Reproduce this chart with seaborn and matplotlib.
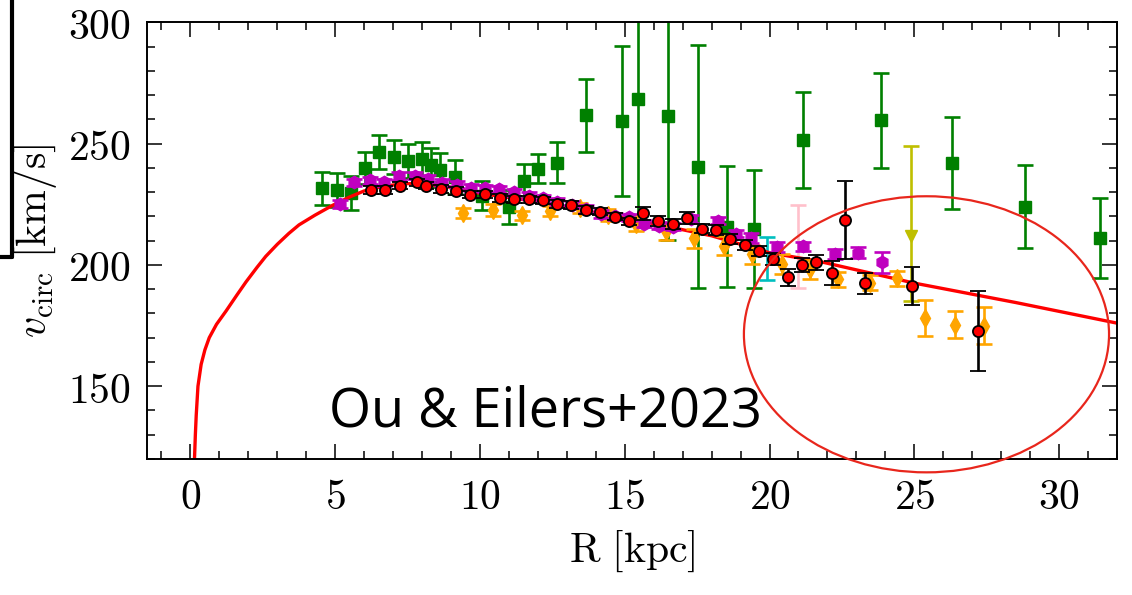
import numpy as np
import pandas as pd
import matplotlib
matplotlib.use("Agg")
import matplotlib.pyplot as plt
import seaborn as sns
from matplotlib.patches import Ellipse
from matplotlib.lines import Line2D
from matplotlib.ticker import MultipleLocator, FuncFormatter

# ---------------- data ----------------
# model rotation curve (red line)
model_R = [0.14, 0.17, 0.2, 0.26, 0.37, 0.5, 0.65, 0.9, 1.23, 1.6, 1.92, 2.3, 2.6, 3.0, 3.4,
           3.75, 4.3, 4.9, 5.5, 6.0, 6.7, 7.4, 8.0, 9.0, 10.0, 12.0, 14.0, 16.0, 18.0,
           20.0, 21.7, 25.0, 28.5, 32.0]
model_v = [120, 130, 138, 150, 159, 165, 170, 175.5, 181, 187.5, 193, 199, 203.5, 208.5, 213,
           216.5, 220.5, 224.5, 228, 230.5, 232.5, 233.5, 233.5, 232, 229.5, 226, 221.5, 217, 212,
           205, 201.5, 192.5, 184.5, 176]

# Ou & Eilers+2023 (red circles)
ou_R = [6.22, 6.73, 7.25, 7.82, 8.13, 8.66, 9.17, 9.65, 10.17, 10.69, 11.18, 11.68, 12.18,
        12.67, 13.15, 13.67, 14.16, 14.66, 15.16, 15.64, 16.15, 16.67, 17.14, 17.66, 18.16,
        18.65, 19.14, 19.63, 20.12, 20.63, 21.12, 21.62, 22.16, 22.62, 23.30, 24.91, 27.2]
ou_v = [230.9, 230.9, 232.6, 234.1, 232.6, 231.3, 230.5, 229.0, 229.1, 227.6, 227.0, 227.0, 226.6,
        225.1, 224.7, 222.6, 221.9, 219.9, 217.9, 221.2, 218.2, 216.8, 219.3, 215.0, 214.4,
        210.6, 208.1, 205.8, 202.6, 195.0, 199.9, 201.0, 196.6, 218.5, 192.4, 191.3, 172.7]
ou_e = [1.5, 1.5, 1.5, 1.5, 1.5, 1.5, 1.5, 1.5, 1.5, 1.5, 1.5, 1.5, 1.5,
        1.5, 1.5, 1.5, 1.5, 1.5, 1.5, 2.5, 2.0, 2.0, 2.5, 2.0, 2.0,
        2.0, 2.0, 2.0, 2.5, 3.5, 3.0, 3.0, 5.0, 16.0, 4.3, 8.0, 16.5]

# magenta hexagons
mag_R = [5.18, 5.66, 6.2, 6.67, 7.2, 7.75, 8.2, 8.68, 9.2, 9.7, 10.17, 10.67, 11.18, 11.68,
         12.18, 12.67, 13.17, 13.67, 14.18, 14.67, 15.16, 15.66, 16.18, 16.68, 17.3, 18.22,
         18.85, 19.37, 20.27, 21.15, 22.25, 23.07, 23.87]
mag_v = [225.1, 234.1, 234.9, 234.1, 236.6, 236.8, 235.5, 233.9, 233.0, 231.9, 231.5, 231.1,
         229.9, 228.5, 227.5, 226.0, 224.8, 223.0, 221.0, 220.0, 219.6, 217.0, 216.1, 215.8,
         218.9, 218.3, 212.8, 211.1, 207.3, 207.6, 204.4, 205.1, 201.0]
mag_e = [1.5] * 27 + [2.0, 2.0, 2.0, 2.0, 2.3, 4.5]

# orange thin diamonds
ora_R = [9.43, 10.45, 11.44, 12.43, 13.44, 14.41, 15.39, 16.42, 17.39, 18.42, 19.40, 20.43,
         21.41, 22.38, 23.47, 24.39, 25.36, 26.39, 27.42]
ora_v = [221.3, 222.5, 220.4, 222.2, 223.5, 220.5, 217.0, 213.8, 211.0, 208.0, 204.4, 200.3,
         198.2, 194.1, 192.7, 194.5, 178.2, 175.4, 175.0]
ora_e = [2.0, 2.5, 2.0, 2.0, 2.0, 2.5, 3.0, 3.5, 4.0, 4.0, 4.0, 4.0, 4.0, 3.0, 3.0, 3.0,
         7.5, 5.7, 7.7]

# green squares
grn_R = [4.53, 5.05, 5.54, 6.04, 6.51, 7.02, 7.53, 7.99, 8.3, 8.62, 9.13, 10.06, 10.99, 11.52,
         12.0, 12.67, 13.66, 14.89, 15.47, 16.5, 17.52, 18.53, 19.45, 21.15, 23.84, 26.3,
         28.81, 31.43]
grn_v = [231.5, 230.9, 229.7, 240.0, 246.5, 244.4, 243.0, 243.5, 241.0, 239.3, 236.1, 228.5,
         224.0, 234.4, 239.6, 242.2, 261.6, 259.3, 268.5, 261.2, 240.5, 215.7, 214.8, 251.6,
         259.6, 241.9, 224.0, 211.0]
grn_e = [7, 7, 7, 6.5, 7, 7, 7, 7, 7, 7, 7, 6, 7, 7, 6, 8.5, 15, 31, 48, 51, 50, 25, 24.4,
         19.7, 19.7, 19, 17, 16.5]

# single points
cyan_R, cyan_v, cyan_e = [19.9], [202.6], [9.0]
pink_R, pink_v, pink_e = [21.0], [207.6], [17.2]
yel_R, yel_v, yel_elo, yel_ehi = [24.9], [212.0], [27.0], [37.0]

label_text = "Ou & Eilers+2023"

# ---------------- style ----------------
sns.set_theme(style="ticks", color_codes=False)
plt.rcParams["mathtext.fontset"] = "cm"
plt.rcParams["font.family"] = ["DejaVu Serif"]
plt.rcParams["text.color"] = "black"
plt.rcParams["axes.labelcolor"] = "black"
plt.rcParams["xtick.color"] = "black"
plt.rcParams["ytick.color"] = "black"

C_GREEN = "#008000"
C_MAG = "#bf00bf"
C_CYAN = "#00bfbf"
C_YEL = "#bfbf00"
C_ORA = "#ffa500"
C_PINK = "#ffc0cb"

fig = plt.figure(figsize=(11.32, 5.95), dpi=100)
ax = fig.add_axes([147 / 1132, 1 - 459 / 595, (1117 - 147) / 1132, (459 - 22.3) / 595])

eb_kw = dict(linestyle="none", capsize=6, elinewidth=1.9, capthick=1.9)

ax.errorbar(grn_R, grn_v, yerr=grn_e, fmt="s", color=C_GREEN, ms=9, zorder=1, **eb_kw)
ax.errorbar(cyan_R, cyan_v, yerr=cyan_e, fmt="none", ecolor=C_CYAN, zorder=1.5, **eb_kw)
ax.errorbar(pink_R, pink_v, yerr=pink_e, fmt="none", ecolor=C_PINK, zorder=1.5, **eb_kw)
ax.errorbar(yel_R, yel_v, yerr=[yel_elo, yel_ehi], fmt="v", color=C_YEL, ms=9, zorder=1.5, **eb_kw)

model_df = pd.DataFrame({"R": model_R, "v": model_v})
sns.lineplot(data=model_df, x="R", y="v", ax=ax, color="red", lw=2.4, zorder=2.5, sort=False)

ax.errorbar(ora_R, ora_v, yerr=ora_e, fmt="d", color=C_ORA, ms=9, zorder=3, **eb_kw)
ax.errorbar(mag_R, mag_v, yerr=mag_e, fmt="h", color=C_MAG, ms=9, zorder=4, **eb_kw)
ax.errorbar(ou_R, ou_v, yerr=ou_e, fmt="o", mfc="red", mec="black", mew=1.3, ms=8,
            ecolor="black", zorder=5, **eb_kw)

ax.set_xlim(-1.5, 32)
ax.set_ylim(120, 300)
ax.xaxis.set_major_locator(MultipleLocator(5))
ax.xaxis.set_minor_locator(MultipleLocator(1))
ax.yaxis.set_major_locator(MultipleLocator(50))
ax.yaxis.set_minor_locator(MultipleLocator(10))
fmt = FuncFormatter(lambda v, p: r"$%d$" % round(v))
ax.xaxis.set_major_formatter(fmt)
ax.yaxis.set_major_formatter(fmt)
ax.tick_params(which="both", direction="in", top=True, right=True, width=1.1, color="black")
ax.tick_params(which="major", length=11, labelsize=30, pad=12)
ax.tick_params(which="minor", length=5.5)
for s in ax.spines.values():
    s.set_linewidth(1.4)
    s.set_color("black")

ax.set_xlabel(r"$\mathrm{R\ [kpc]}$", fontsize=30, labelpad=8)
ax.set_ylabel(r"$v_{\rm circ}\ [\mathrm{km/s}]$", fontsize=30, labelpad=6)

ax.text(4.78, 133.4, label_text, family=["Open Sans", "DejaVu Sans"], fontsize=39,
        fontweight="normal", ha="left", va="baseline", color="black", zorder=6)

ell = Ellipse((25.42, 171.4), width=12.61, height=113.8, fill=False, edgecolor="#e8261c",
              lw=1.6, clip_on=False, zorder=10)
ax.add_patch(ell)

# black bracket at left edge
fig.add_artist(Line2D([12 / 1132, 12 / 1132], [1.0, 1 - 257 / 595], transform=fig.transFigure,
                      color="black", lw=3))
fig.add_artist(Line2D([0, 12 / 1132], [1 - 257 / 595, 1 - 257 / 595], transform=fig.transFigure,
                      color="black", lw=3))

fig.savefig("out.png", dpi=100)
